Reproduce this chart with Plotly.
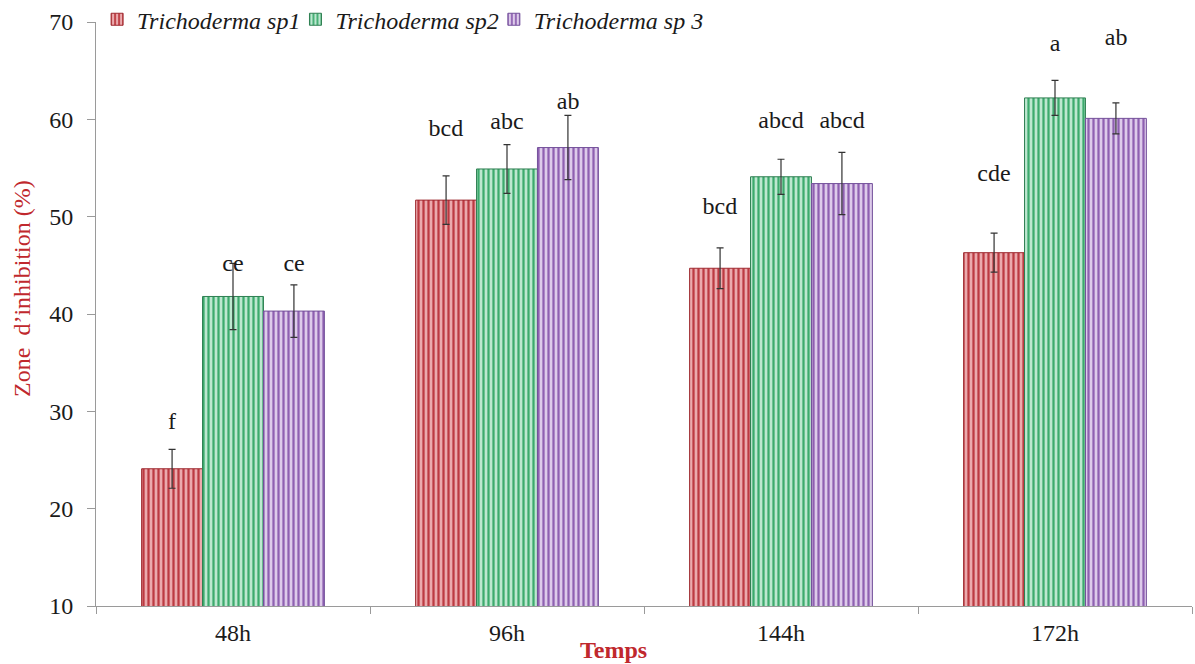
import plotly.graph_objects as go

# Inhibition zone (%) per incubation time for three Trichoderma isolates
temps = ["48h", "96h", "144h", "172h"]
series_names = ["Trichoderma sp1", "Trichoderma sp2", "Trichoderma sp 3"]

sp1_values = [24.1, 51.7, 44.7, 46.3]
sp2_values = [41.8, 54.9, 54.1, 62.2]
sp3_values = [40.3, 57.1, 53.4, 60.1]

sp1_errors = [2.0, 2.5, 2.1, 2.0]
sp2_errors = [3.4, 2.5, 1.8, 1.8]
sp3_errors = [2.7, 3.3, 3.2, 1.6]

sp1_letters = ["f", "bcd", "bcd", "cde"]
sp2_letters = ["ce", "abc", "abcd", "a"]
sp3_letters = ["ce", "ab", "abcd", "ab"]

# vertical placement of the significance letters (data units)
sp1_letter_y = [28.8, 58.9, 50.9, 54.3]
sp2_letter_y = [45.0, 59.6, 59.7, 67.6]
sp3_letter_y = [45.0, 61.7, 59.7, 68.3]

styles = [
    dict(bg="#EBAAAD", fg="#BC3A41", line="#9E2A30"),
    dict(bg="#BDE7D0", fg="#3CAA6D", line="#2F7F52"),
    dict(bg="#DDCBEA", fg="#8E60B1", line="#73509A"),
]

values = [sp1_values, sp2_values, sp3_values]
errors = [sp1_errors, sp2_errors, sp3_errors]
letters = [sp1_letters, sp2_letters, sp3_letters]
letter_y = [sp1_letter_y, sp2_letter_y, sp3_letter_y]

serif = "Liberation Serif"
red_title = "#C0282D"

# one legend box per series so the entries sit close together in a row
legend_ids = ["legend", "legend2", "legend3"]
legend_x = [0.001, 0.182, 0.363]

fig = go.Figure()
for name, vals, errs, st, lid in zip(series_names, values, errors, styles, legend_ids):
    fig.add_trace(go.Bar(
        name="<i>" + name + "</i>",
        x=temps,
        y=vals,
        legend=lid,
        marker=dict(
            color=st["bg"],
            line=dict(color=st["line"], width=1),
            pattern=dict(shape="|", fgcolor=st["fg"], bgcolor=st["bg"],
                         size=5, solidity=0.45, fillmode="replace"),
        ),
        error_y=dict(type="data", array=errs, visible=True,
                     color="#333333", thickness=1.2, width=3.5),
    ))

# significance letters above each bar (offset to the bar centres of each group)
shifts = [-0.223, 0.0, 0.223]
for k in range(3):
    fig.add_trace(go.Scatter(
        x=[i + shifts[k] for i in range(len(temps))],
        y=letter_y[k],
        mode="text",
        text=letters[k],
        textfont=dict(family=serif, size=24, color="#1a1a1a"),
        showlegend=False,
        hoverinfo="skip",
        xaxis="x2",
    ))

legend_common = dict(
    orientation="h",
    xanchor="left",
    y=1.004, yanchor="middle",
    font=dict(family=serif, size=24, color="#1a1a1a"),
    itemwidth=30,
    bgcolor="rgba(0,0,0,0)",
)

fig.update_layout(
    width=1195,
    height=664,
    margin=dict(l=96, r=3, t=22, b=58, autoexpand=False),
    paper_bgcolor="white",
    plot_bgcolor="white",
    barmode="group",
    bargap=0.333,
    bargroupgap=0,
    font=dict(family=serif, size=24, color="#1a1a1a"),
    showlegend=True,
    legend=dict(x=legend_x[0], **legend_common),
    legend2=dict(x=legend_x[1], **legend_common),
    legend3=dict(x=legend_x[2], **legend_common),
    xaxis=dict(
        type="category",
        showline=True, linecolor="#9a9a9a", linewidth=1,
        ticks="outside", tickson="boundaries", ticklen=7, tickcolor="#9a9a9a",
        showgrid=False,
        tickfont=dict(family=serif, size=24, color="#1a1a1a"),
        ticklabelstandoff=5,
    ),
    xaxis2=dict(
        overlaying="x", range=[-0.5, 3.5], visible=False,
    ),
    yaxis=dict(
        range=[10, 70],
        dtick=10,
        showline=True, linecolor="#9a9a9a", linewidth=1,
        ticks="outside", ticklen=8, tickcolor="#9a9a9a",
        showgrid=False,
        zeroline=False,
        tickfont=dict(family=serif, size=24, color="#1a1a1a"),
        ticklabelstandoff=9,
    ),
    annotations=[
        dict(
            text="Zone  d\u2019inhibition (%)",
            xref="paper", yref="paper",
            x=-0.0675, y=0.543,
            xanchor="center", yanchor="middle",
            textangle=-90,
            showarrow=False,
            font=dict(family=serif, size=24, color=red_title),
        ),
        dict(
            text="<b>Temps</b>",
            xref="paper", yref="paper",
            x=0.472, y=-0.0753,
            xanchor="center", yanchor="middle",
            showarrow=False,
            font=dict(family=serif, size=24, color=red_title),
        ),
    ],
)

fig.write_html("out.html")
